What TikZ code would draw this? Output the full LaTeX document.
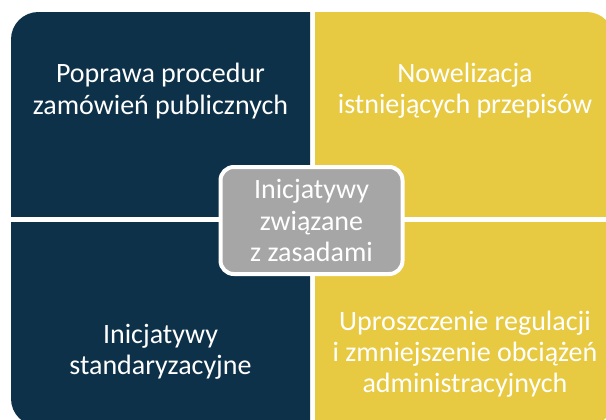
\documentclass[tikz,border=0pt]{standalone}
\usepackage{fontspec}
\setmainfont{Carlito}
\usetikzlibrary{positioning}
\definecolor{navy}{RGB}{14,49,74}
\definecolor{gold}{RGB}{232,202,66}
\definecolor{midgray}{RGB}{166,166,166}

\begin{document}
\begin{tikzpicture}[
  x=0.75pt,y=-0.75pt,
  quad/.style={rounded corners=20.5pt},
  lbl/.style={text=white,align=center,font=\fontsize{21}{23.5}\selectfont},
  hub/.style={lbl,draw=white,line width=3pt,fill=midgray,rounded corners=10pt,
    minimum width=136.5pt,minimum height=80.25pt,inner sep=0pt}
]
  \useasboundingbox (0,0) rectangle (606,419);
  \clip (0,0) rectangle (606,419);

  % four quadrants, only the outer corner rounded
  \foreach \xa/\ya/\xb/\yb/\col in {11/12/310/216/navy, 315/12/614/216/gold,
                                    11/222/310/426/navy, 315/222/614/426/gold}{
    \begin{scope}
      \clip (\xa,\ya) rectangle (\xb,\yb);
      \fill[\col,quad] (11,12) rectangle (614,426);
    \end{scope}
  }

  \node[lbl] (tl) at (160.5,91)  {Poprawa procedur\\zamówień publicznych};
  \node[lbl] (tr) at (465,91)    {Nowelizacja\\istniejących przepisów};
  \node[lbl] (bl) at (160.5,352) {Inicjatywy\\standaryzacyjne};
  \node[lbl] (br) at (465,354)   {Uproszczenie regulacji\\i zmniejszenie obciążeń\\administracyjnych};

  \node[hub] (hub) at (311.5,220.5) {Inicjatywy\\związane\\z zasadami};
\end{tikzpicture}
\end{document}
